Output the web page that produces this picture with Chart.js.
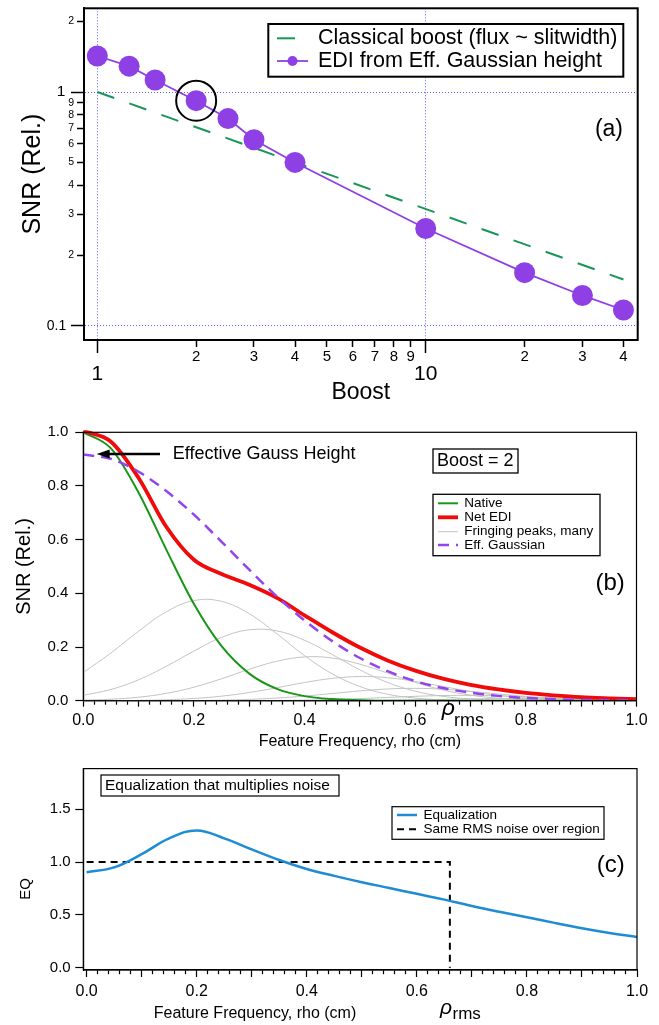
<!DOCTYPE html>
<html lang="en">
<head>
<meta charset="utf-8">
<title>EDI boost, SNR and equalization</title>
<script src="https://cdn.jsdelivr.net/npm/chart.js@4.4.0/dist/chart.umd.min.js"></script>
<style>
  body { margin: 0; background: #fff; }
  .panel { position: absolute; left: 0; width: 659px; }
</style>
</head>
<body>
<div class="panel" style="top:0;height:415px"><canvas id="chartA" width="659" height="415"></canvas></div>
<div class="panel" style="top:415px;height:340px"><canvas id="chartB" width="659" height="340"></canvas></div>
<div class="panel" style="top:755px;height:270px"><canvas id="chartC" width="659" height="270"></canvas></div>
<script>
// ---- panel (a): SNR vs boost (log-log)
const boost = [1, 1.25, 1.5, 2, 2.5, 3, 4, 10, 20, 30, 40];
const ediSnr = [1.425, 1.29, 1.125, 0.918, 0.77, 0.625, 0.50, 0.261, 0.169, 0.135, 0.117];
const classicBoost = [1, 40];
const classicSnr = [1, 0.158];
const circledBoost = 2;
const boostTicks = [1, 2, 3, 4, 5, 6, 7, 8, 9, 10, 20, 30, 40];
const boostTickLabels = ['1', '2', '3', '4', '5', '6', '7', '8', '9', '10', '2', '3', '4'];
const snrTicks = [0.1, 0.2, 0.3, 0.4, 0.5, 0.6, 0.7, 0.8, 0.9, 1, 2];
const snrTickLabels = ['0.1  ', '2', '3', '4', '5', '6', '7', '8', '9', '1  ', '2'];

// ---- panel (b): SNR vs feature frequency
const rho = [0, 0.05, 0.1, 0.15, 0.2, 0.25, 0.3, 0.35, 0.4, 0.45, 0.5, 0.55, 0.6, 0.65, 0.7, 0.75, 0.8, 0.85, 0.9, 0.95, 1.0];
const nativeSnr = [1.0, 0.94, 0.775, 0.563, 0.36, 0.203, 0.101, 0.044, 0.017, 0.006, 0.002, 0, 0, 0, 0, 0, 0, 0, 0, 0, 0];
const netEdi = [1.005, 0.965, 0.83, 0.648, 0.525, 0.472, 0.432, 0.383, 0.318, 0.255, 0.198, 0.15, 0.112, 0.082, 0.059, 0.042, 0.029, 0.02, 0.013, 0.009, 0.006];
const effGauss = [0.917, 0.901, 0.853, 0.781, 0.693, 0.592, 0.488, 0.388, 0.299, 0.222, 0.159, 0.110, 0.073, 0.047, 0.030, 0.018, 0.010, 0.006, 0.003, 0.002, 0.001];
const fringe1 = [0.105, 0.178, 0.259, 0.331, 0.373, 0.370, 0.324, 0.249, 0.168, 0.100, 0.053, 0.024, 0.010, 0.0035, 0.001, 0.0003, 0, 0, 0, 0, 0];
const fringe2 = [0.020, 0.042, 0.078, 0.128, 0.185, 0.236, 0.264, 0.260, 0.225, 0.172, 0.115, 0.068, 0.0355, 0.0163, 0.0066, 0.0023, 0.0007, 0.0002, 0, 0, 0];
const fringe3 = [0.002, 0.0055, 0.013, 0.0273, 0.0504, 0.0819, 0.117, 0.147, 0.163, 0.159, 0.136, 0.103, 0.0685, 0.040, 0.0207, 0.0094, 0.0037, 0.0013, 0.0004, 0.0001, 0];
const fringe4 = [0.0001, 0.0004, 0.0013, 0.0035, 0.0083, 0.0169, 0.0305, 0.0484, 0.0676, 0.0831, 0.0899, 0.0857, 0.0718, 0.053, 0.0345, 0.0197, 0.0099, 0.0044, 0.0017, 0.0006, 0.0002];
const fringe5 = [0, 0, 0.0001, 0.0003, 0.0008, 0.0022, 0.0049, 0.0098, 0.0173, 0.0267, 0.0364, 0.0436, 0.046, 0.0427, 0.0349, 0.0251, 0.0159, 0.0089, 0.0044, 0.0019, 0.0007];
const fringe6 = [0, 0, 0, 0, 0, 0.0001, 0.0004, 0.001, 0.0023, 0.0046, 0.008, 0.0121, 0.0163, 0.0192, 0.02, 0.0182, 0.0147, 0.0104, 0.0065, 0.0036, 0.0017];
const fringe7 = [0, 0, 0, 0, 0, 0, 0, 0, 0, 0.0005, 0.001, 0.002, 0.0033, 0.005, 0.0067, 0.0078, 0.008, 0.0072, 0.0057, 0.004, 0.0025];
const rhoTickVals = [0, 0.2, 0.4, 0.6, 0.8, 1.0];
const rhoTickLabels = ['0.0', '0.2', '0.4', '0.6', '0.8', '1.0'];
const snrLinTicks = [0, 0.2, 0.4, 0.6, 0.8, 1.0];
const snrLinLabels = ['0.0', '0.2', '0.4', '0.6', '0.8', '1.0'];

// ---- panel (c): equalization
const eqVals = [0.905, 0.95, 1.075, 1.225, 1.30, 1.225, 1.12, 1.02, 0.935, 0.87, 0.81, 0.755, 0.70, 0.645, 0.585, 0.53, 0.478, 0.425, 0.375, 0.33, 0.29];
const rmsRho = [0, 0.66, 0.66];
const rmsEq = [1, 1, 0];
const eqTicks = [0, 0.5, 1.0, 1.5];
const eqTickLabels = ['0.0', '0.5', '1.0', '1.5'];

const FONT = "'Liberation Sans', Arial, Helvetica, sans-serif";
Chart.defaults.font.family = FONT;
Chart.defaults.color = '#000';
Chart.defaults.animation = false;

const pts = (xs, ys) => xs.map((x, i) => ({ x: x, y: ys[i] }));
const isBig = c => !!(c.tick && c.tick.big);

function rhoAxisTicks(scale) {
  const t = [];
  for (let i = 0; i <= 50; i++) {
    const v = i / 50;
    const k = rhoTickVals.findIndex(r => Math.abs(r - v) < 1e-9);
    t.push({ value: v, big: i % 5 === 0, lab: k });
  }
  scale.ticks = t;
}
const rhoLabel = (v, i, ticks) => ticks[i].lab >= 0 ? rhoTickLabels[ticks[i].lab] : '';

// annotations, legends and frames (canvas pixel positions)
const notes = {
  chartA: {
    frame: 2,
    boxes: [[268.3, 24, 623.3, 76.7, 2]],
    legend: { size: 21.5, x0: 277, x1: 308, tx: 318, items: [[2, 38.3, 0], [1, 61, 5]] },
    texts: [{ t: '(a)', x: 623, y: 130, size: 23, align: 'right' }]
  },
  chartB: {
    frame: 1.2,
    boxes: [[433, 34, 518, 58, 1.3], [433, 79.3, 600, 140.7, 1.3]],
    legend: { size: 13.5, x0: 438, x1: 458, tx: 464.3, items: [[2, 88.3, 0], [1, 102.3, 0], [3, 116.7, 0], [0, 130, 0]] },
    arrow: [160, 96.7, 39],
    texts: [
      { t: 'Boost = 2', x: 437, y: 46, size: 18 },
      { t: 'Effective Gauss Height', x: 172.7, y: 39, size: 18 },
      { t: '(b)', x: 624.8, y: 168.3, size: 24, align: 'right' },
      { t: 'ρ', x: 441.7, y: 300, size: 23, style: 'italic', base: 'alphabetic' },
      { t: 'rms', x: 454, y: 311, size: 18, base: 'alphabetic' }
    ]
  },
  chartC: {
    frame: 1.2,
    boxes: [[101, 20, 339, 41, 1.2], [392, 51.7, 604, 84.3, 1.2]],
    legend: { size: 13.5, x0: 397, x1: 417, tx: 423.5, items: [[0, 60, 0], [1, 74.3, 0]] },
    texts: [
      { t: 'Equalization that multiplies noise', x: 105, y: 30.5, size: 15.5 },
      { t: '(c)', x: 624.8, y: 110, size: 24, align: 'right' },
      { t: 'Feature Frequency, rho (cm)', x: 255, y: 259, size: 16, align: 'center' },
      { t: 'ρ', x: 440, y: 259, size: 21, style: 'italic', base: 'alphabetic' },
      { t: 'rms', x: 452.5, y: 264, size: 17, base: 'alphabetic' },
      { t: 'EQ', x: 26, y: 134, size: 15, align: 'center', rot: -Math.PI / 2 }
    ]
  }
};

const decoPlugin = {
  id: 'deco',
  afterDraw(chart) {
    const d = notes[chart.canvas.id];
    if (!d) return;
    const ctx = chart.ctx, a = chart.chartArea;
    ctx.save();
    ctx.strokeStyle = '#000';
    ctx.lineWidth = d.frame;
    ctx.strokeRect(a.left, a.top, a.right - a.left, a.bottom - a.top);
    d.boxes.forEach(b => {
      ctx.fillStyle = '#fff';
      ctx.fillRect(b[0], b[1], b[2] - b[0], b[3] - b[1]);
      ctx.lineWidth = b[4];
      ctx.strokeStyle = '#000';
      ctx.strokeRect(b[0], b[1], b[2] - b[0], b[3] - b[1]);
    });
    const lg = d.legend;
    lg.items.forEach(([idx, y, mr]) => {
      const ds = chart.data.datasets[idx];
      ctx.save();
      ctx.setLineDash(ds.borderDash || []);
      ctx.lineWidth = ds.borderWidth;
      ctx.strokeStyle = ds.borderColor;
      ctx.beginPath();
      ctx.moveTo(lg.x0, y);
      ctx.lineTo(lg.x1, y);
      ctx.stroke();
      if (mr) {
        ctx.fillStyle = ds.pointBackgroundColor;
        ctx.beginPath();
        ctx.arc((lg.x0 + lg.x1) / 2, y, mr, 0, Math.PI * 2);
        ctx.fill();
      }
      ctx.restore();
      ctx.fillStyle = '#000';
      ctx.font = lg.size + 'px ' + FONT;
      ctx.textAlign = 'left';
      ctx.textBaseline = 'middle';
      ctx.fillText(ds.label, lg.tx, y);
    });
    if (d.arrow) {
      const [x0, x1, y] = d.arrow;
      ctx.lineWidth = 2.5;
      ctx.strokeStyle = '#000';
      ctx.beginPath();
      ctx.moveTo(x0, y);
      ctx.lineTo(x1 + 10, y);
      ctx.stroke();
      ctx.fillStyle = '#000';
      ctx.beginPath();
      ctx.moveTo(x1, y);
      ctx.lineTo(x1 + 13, y - 4.5);
      ctx.lineTo(x1 + 13, y + 4.5);
      ctx.closePath();
      ctx.fill();
    }
    d.texts.forEach(t => {
      ctx.save();
      ctx.fillStyle = '#000';
      ctx.font = (t.style ? t.style + ' ' : '') + t.size + 'px ' + FONT;
      ctx.textAlign = t.align || 'left';
      ctx.textBaseline = t.base || 'middle';
      ctx.translate(t.x, t.y);
      if (t.rot) ctx.rotate(t.rot);
      ctx.fillText(t.t, 0, 0);
      ctx.restore();
    });
    ctx.restore();
  }
};

const common = {
  responsive: false,
  animation: false,
  events: [],
  devicePixelRatio: 1,
  plugins: { legend: { display: false }, tooltip: { enabled: false } }
};

// ---------------- (a)
const purple = 'rgb(142,64,228)';
new Chart(document.getElementById('chartA'), {
  type: 'line',
  data: {
    datasets: [
      {
        label: 'circle',
        data: pts([circledBoost], [ediSnr[boost.indexOf(circledBoost)]]),
        showLine: false,
        pointRadius: 20,
        pointBackgroundColor: 'rgba(0,0,0,0)',
        pointBorderColor: '#000',
        pointBorderWidth: 2,
        borderColor: '#000'
      },
      {
        label: 'EDI from Eff. Gaussian height',
        data: pts(boost, ediSnr),
        borderColor: purple,
        borderWidth: 1.8,
        pointRadius: 10.5,
        pointBackgroundColor: purple,
        pointBorderWidth: 0,
        tension: 0
      },
      {
        label: 'Classical boost (flux ~ slitwidth)',
        data: pts(classicBoost, classicSnr),
        borderColor: 'rgb(25,150,85)',
        borderWidth: 2,
        borderDash: [18, 16],
        pointRadius: 0,
        tension: 0
      }
    ]
  },
  options: Object.assign({}, common, {
    layout: { autoPadding: false, padding: { left: 0, right: 21.3, top: 8.3, bottom: 0 } },
    scales: {
      x: {
        type: 'logarithmic',
        min: 0.911,
        max: 44.2,
        afterBuildTicks: s => { s.ticks = boostTicks.map(v => ({ value: v, big: v === 1 || v === 10 })); },
        afterFit: s => { s.height = 75; },
        border: { color: '#000', width: 2, dash: [1, 2] },
        grid: {
          color: c => isBig(c) ? 'rgb(95,95,255)' : 'rgba(0,0,0,0)',
          lineWidth: 1,
          tickColor: '#000',
          tickWidth: 1.5,
          tickLength: 13,
          tickBorderDash: c => isBig(c) ? [] : [6, 40]
        },
        ticks: {
          autoSkip: false,
          maxRotation: 0,
          padding: -4,
          color: '#000',
          font: c => isBig(c) ? { size: 21, lineHeight: '17px' } : { size: 15, lineHeight: '16px' },
          callback: (v, i, ticks) => ticks[i].big ? ['', boostTickLabels[i]] : boostTickLabels[i]
        },
        title: { display: true, text: 'Boost', color: '#000', font: { size: 23 }, padding: { top: 0, bottom: 8.2 } }
      },
      y: {
        type: 'logarithmic',
        min: 0.0871,
        max: 2.279,
        afterBuildTicks: s => { s.ticks = snrTicks.map(v => ({ value: v, big: v === 1 || v === 0.1 })); },
        afterFit: s => { s.width = 84; },
        border: { color: '#000', width: 2, dash: [1, 2] },
        grid: {
          color: c => isBig(c) ? 'rgb(95,95,255)' : 'rgba(0,0,0,0)',
          lineWidth: 1,
          tickColor: '#000',
          tickWidth: 1.5,
          tickLength: 13,
          tickBorderDash: c => isBig(c) ? [] : [6, 40],
          tickBorderDashOffset: c => isBig(c) ? 0 : 40
        },
        ticks: {
          autoSkip: false,
          padding: -3,
          color: '#000',
          font: c => (c.tick && c.tick.value === 1) ? { size: 15.5 } : isBig(c) ? { size: 14 } : { size: 10.5 },
          callback: (v, i) => snrTickLabels[i]
        },
        title: { display: true, text: 'SNR (Rel.)', color: '#000', font: { size: 25 }, padding: { top: 18, bottom: 0 } }
      }
    }
  }),
  plugins: [decoPlugin]
});

// ---------------- (b)
const gray = 'rgb(195,195,195)';
const fringes = [fringe1, fringe2, fringe3, fringe4, fringe5, fringe6, fringe7];
const bSets = [
  { label: 'Eff. Gaussian', data: pts(rho, effGauss), borderColor: 'rgb(148,68,238)', borderWidth: 2.5, borderDash: [11, 7], cubicInterpolationMode: 'monotone' },
  { label: 'Net EDI', data: pts(rho, netEdi), borderColor: 'rgb(240,10,10)', borderWidth: 3.8, clip: 2, cubicInterpolationMode: 'monotone' },
  { label: 'Native', data: pts(rho, nativeSnr), borderColor: 'rgb(24,150,24)', borderWidth: 2, cubicInterpolationMode: 'monotone' }
];
fringes.forEach((f, k) => {
  bSets.push({ label: k === 0 ? 'Fringing peaks, many' : 'fringe', data: pts(rho, f), borderColor: gray, borderWidth: 1, tension: 0.4, clip: 0.5 });
});
bSets.forEach(ds => { ds.pointRadius = 0; });

new Chart(document.getElementById('chartB'), {
  type: 'line',
  data: { datasets: bSets },
  options: Object.assign({}, common, {
    layout: { autoPadding: false, padding: { left: 0, right: 22.5, top: 17.3, bottom: 0 } },
    scales: {
      x: {
        type: 'linear',
        min: 0,
        max: 1,
        afterBuildTicks: rhoAxisTicks,
        afterFit: s => { s.height = 54.3; },
        border: { color: '#000', width: 1.2 },
        grid: {
          drawOnChartArea: false,
          tickColor: '#000',
          tickWidth: 1.2,
          tickLength: 6,
          tickBorderDash: c => isBig(c) ? [] : [3.5, 30]
        },
        ticks: { autoSkip: false, maxRotation: 0, padding: 4.7, color: '#000', font: { size: 16 }, callback: rhoLabel },
        title: { display: true, text: 'Feature Frequency, rho (cm)', color: '#000', font: { size: 16 }, padding: { top: 0, bottom: 3.7 } }
      },
      y: {
        type: 'linear',
        min: 0,
        max: 1,
        afterBuildTicks: s => { s.ticks = snrLinTicks.map(v => ({ value: v })); },
        afterFit: s => { s.width = 83.3; },
        border: { color: '#000', width: 1.2 },
        grid: { drawOnChartArea: false, tickColor: '#000', tickWidth: 1.2, tickLength: 8 },
        ticks: { autoSkip: false, padding: 7, color: '#000', font: { size: 15 }, callback: (v, i) => snrLinLabels[i] },
        title: { display: true, text: 'SNR (Rel.)', color: '#000', font: { size: 20 }, padding: { top: 12, bottom: 0 } }
      }
    }
  }),
  plugins: [decoPlugin]
});

// ---------------- (c)
new Chart(document.getElementById('chartC'), {
  type: 'line',
  data: {
    datasets: [
      { label: 'Equalization', data: pts(rho, eqVals), borderColor: 'rgb(30,140,212)', borderWidth: 2.5, pointRadius: 0, tension: 0.4 },
      { label: 'Same RMS noise over region', data: pts(rmsRho, rmsEq), borderColor: '#000', borderWidth: 2, borderDash: [7, 5], pointRadius: 0, tension: 0 }
    ]
  },
  options: Object.assign({}, common, {
    layout: { autoPadding: false, padding: { left: 0, right: 22, top: 6, bottom: 0 } },
    scales: {
      x: {
        type: 'linear',
        min: -0.006,
        max: 1.0,
        afterBuildTicks: rhoAxisTicks,
        afterFit: s => { s.height = 55; },
        border: { color: '#000', width: 1.2 },
        grid: {
          drawOnChartArea: false,
          tickColor: '#000',
          tickWidth: 1.2,
          tickLength: 7,
          tickBorderDash: c => isBig(c) ? [] : [4, 30]
        },
        ticks: { autoSkip: false, maxRotation: 0, padding: 5, color: '#000', font: { size: 16 }, callback: rhoLabel }
      },
      y: {
        type: 'linear',
        min: -0.021,
        max: 1.885,
        afterBuildTicks: s => { s.ticks = eqTicks.map(v => ({ value: v })); },
        afterFit: s => { s.width = 83.3; },
        border: { color: '#000', width: 1.2 },
        grid: { drawOnChartArea: false, tickColor: '#000', tickWidth: 1.2, tickLength: 8 },
        ticks: { autoSkip: false, padding: 4.6, color: '#000', font: { size: 15 }, callback: (v, i) => eqTickLabels[i] }
      }
    }
  }),
  plugins: [decoPlugin]
});
</script>
</body>
</html>
